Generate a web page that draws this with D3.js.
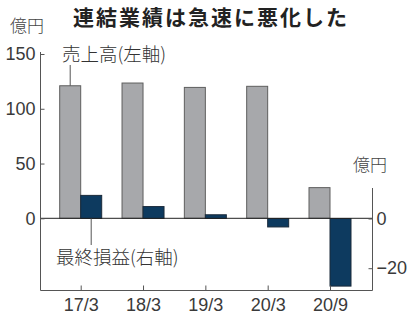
<!DOCTYPE html>
<html><head><meta charset="utf-8">
<script src="https://cdn.jsdelivr.net/npm/d3@7"></script>
<style>
body{margin:0;background:#fff;}
svg{display:block;}
</style></head>
<body>
<svg id="c" width="408" height="323"></svg>
<script>
const categories = ["17/3","18/3","19/3","20/3","20/9"];
const sales = [121, 123.5, 119.5, 120.5, 28];
const netIncome = [9.3, 4.8, 1.5, -3.4, -27.2];
const leftTicks = [0, 50, 100, 150];
const rightTicks = [0, -20];

const svg = d3.select("#c");
const jp = "'Noto Sans CJK JP','Noto Sans',sans-serif";
const num = "'Liberation Sans Narrow','Liberation Sans',sans-serif";
const axisColor = "#555";

const xL = 40.5, xR = 372.5, yB = 290.5;
const x = d3.scalePoint().domain(categories).range([80.7, 330]);
const yL = d3.scaleLinear().domain([0, 150]).range([218.3, 54]);
const yR = d3.scaleLinear().domain([0, -20]).range([218.5, 268.2]);
const bw = 21;

// title
svg.append("text").attr("x", 73).attr("y", 25)
  .attr("font-family", jp).attr("font-weight", 700).attr("font-size", 21)
  .attr("letter-spacing", 2).attr("fill", "#222").text("連結業績は急速に悪化した");

// unit labels
svg.append("text").attr("x", 10).attr("y", 32).attr("font-family", jp)
  .attr("font-size", 17).attr("font-weight", 300).attr("fill", "#444").text("億円");
svg.append("text").attr("x", 353).attr("y", 171).attr("font-family", jp)
  .attr("font-size", 17).attr("font-weight", 300).attr("fill", "#444").text("億円");

// bars
svg.append("g").selectAll("rect").data(sales).join("rect")
  .attr("x", (d,i) => x(categories[i]) - bw)
  .attr("y", d => yL(d))
  .attr("width", bw)
  .attr("height", d => yL(0) - yL(d))
  .attr("fill", "#a7a8ab").attr("stroke", "#5e5e5e").attr("stroke-width", 1);

svg.append("g").selectAll("rect").data(netIncome).join("rect")
  .attr("x", (d,i) => x(categories[i]))
  .attr("y", d => Math.min(yR(d), yR(0)))
  .attr("width", bw)
  .attr("height", d => Math.abs(yR(d) - yR(0)))
  .attr("fill", "#0d3a5f").attr("stroke", "#1a2a3a").attr("stroke-width", 1);

// zero line
svg.append("line").attr("x1", xL).attr("x2", xR).attr("y1", yL(0)).attr("y2", yL(0))
  .attr("stroke", "#222").attr("stroke-width", 1);

// left axis
const gl = svg.append("g").attr("transform", `translate(${xL},0)`)
  .call(d3.axisLeft(yL).tickValues(leftTicks).tickSizeInner(-4).tickSizeOuter(0).tickPadding(5));
gl.select(".domain").remove();
gl.append("line").attr("y1", 52).attr("y2", yB).attr("stroke", axisColor);
gl.selectAll(".tick line").attr("stroke", axisColor);
gl.selectAll("text").attr("font-family", num).attr("font-size", 18).attr("fill", "#3a3a3a");

// right axis
const gr = svg.append("g").attr("transform", `translate(${xR},0)`)
  .call(d3.axisRight(yR).tickValues(rightTicks).tickSizeInner(-4).tickSizeOuter(0).tickPadding(4));
gr.select(".domain").remove();
gr.append("line").attr("y1", 188).attr("y2", yB).attr("stroke", axisColor);
gr.selectAll(".tick line").attr("stroke", axisColor);
gr.selectAll("text").attr("font-family", num).attr("font-size", 18).attr("fill", "#3a3a3a");

// bottom axis
const gb = svg.append("g").attr("transform", `translate(0,${yB})`)
  .call(d3.axisBottom(x).tickSizeInner(-5).tickSizeOuter(0).tickPadding(8));
gb.select(".domain").remove();
gb.append("line").attr("x1", xL).attr("x2", xR).attr("stroke", axisColor);
gb.selectAll(".tick line").attr("stroke", axisColor);
gb.selectAll("text").attr("font-family", num).attr("font-size", 18).attr("fill", "#3a3a3a");

// annotations
const sx = x(categories[0]) - bw/2;
svg.append("line").attr("x1", sx).attr("x2", sx).attr("y1", 65).attr("y2", yL(sales[0]))
  .attr("stroke", "#555");
svg.append("text").attr("x", 62).attr("y", 61).attr("font-family", jp)
  .attr("font-size", 18.5).attr("font-weight", 300).attr("fill", "#333").text("売上高(左軸)");

const nx = x(categories[0]) + bw/2;
svg.append("line").attr("x1", nx).attr("x2", nx).attr("y1", yR(0)).attr("y2", 245)
  .attr("stroke", "#555");
svg.append("text").attr("x", 56).attr("y", 264).attr("font-family", jp)
  .attr("font-size", 18.5).attr("font-weight", 300).attr("fill", "#333").text("最終損益(右軸)");
</script>
</body></html>
